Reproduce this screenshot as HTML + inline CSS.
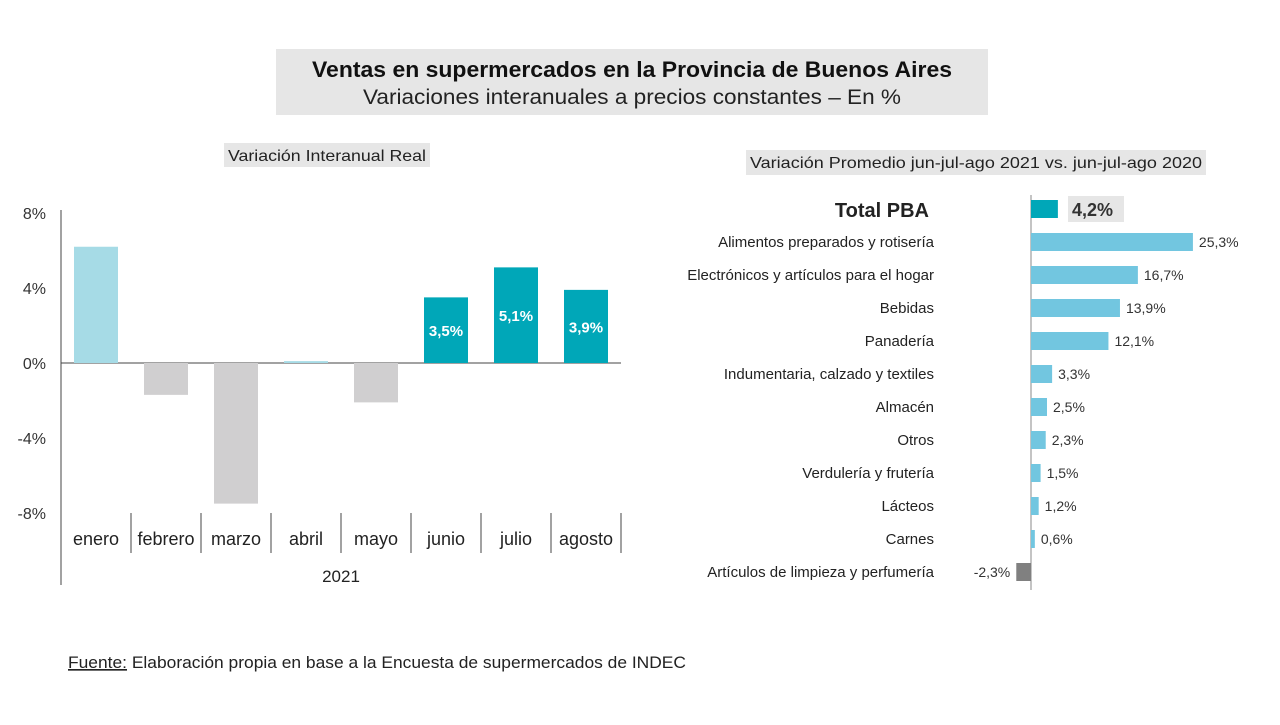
<!DOCTYPE html>
<html><head><meta charset="utf-8">
<style>
body{margin:0;width:1280px;height:720px;background:#fff;font-family:"Liberation Sans",sans-serif;overflow:hidden}
svg text{font-family:"Liberation Sans",sans-serif}
</style></head>
<body>
<svg width="1280" height="720">
<rect x="276" y="49" width="712" height="66" fill="#e6e6e6"/>
<text x="632" y="77" text-anchor="middle" font-size="22.5" font-weight="bold" fill="#111" textLength="640" lengthAdjust="spacingAndGlyphs">Ventas en supermercados en la Provincia de Buenos Aires</text>
<text x="632" y="104" text-anchor="middle" font-size="21" fill="#222" textLength="538" lengthAdjust="spacingAndGlyphs">Variaciones interanuales a precios constantes – En %</text>
<rect x="224" y="143" width="206" height="24" fill="#e6e6e6"/>
<text x="327" y="161" text-anchor="middle" font-size="16" fill="#222" textLength="198" lengthAdjust="spacingAndGlyphs">Variación Interanual Real</text>
<rect x="746" y="150" width="460" height="25" fill="#e6e6e6"/>
<text x="976" y="168" text-anchor="middle" font-size="16" fill="#222" textLength="452" lengthAdjust="spacingAndGlyphs">Variación Promedio jun-jul-ago 2021 vs. jun-jul-ago 2020</text>
<g id="left"></g>
<g id="right"></g>
<text x="68" y="668" font-size="16.5" fill="#222" textLength="618" lengthAdjust="spacingAndGlyphs"><tspan text-decoration="underline">Fuente:</tspan> Elaboración propia en base a la Encuesta de supermercados de INDEC</text>
</svg>
<script>
const months=["enero","febrero","marzo","abril","mayo","junio","julio","agosto"];
const monthVals=[6.2,-1.7,-7.5,0.1,-2.1,3.5,5.1,3.9];
const monthLabels=["","","","","","3,5%","5,1%","3,9%"];
const yTicks=[8,4,0,-4,-8];
const yTickLabels=["8%","4%","0%","-4%","-8%"];
const cats=["Total PBA","Alimentos preparados y rotisería","Electrónicos y artículos para el hogar","Bebidas","Panadería","Indumentaria, calzado y textiles","Almacén","Otros","Verdulería y frutería","Lácteos","Carnes","Artículos de limpieza y perfumería"];
const catVals=[4.2,25.3,16.7,13.9,12.1,3.3,2.5,2.3,1.5,1.2,0.6,-2.3];
const catLabels=["4,2%","25,3%","16,7%","13,9%","12,1%","3,3%","2,5%","2,3%","1,5%","1,2%","0,6%","-2,3%"];
const NS="http://www.w3.org/2000/svg";
function mk(t,a,p,txt){const e=document.createElementNS(NS,t);for(const k in a)e.setAttribute(k,a[k]);if(txt!==undefined)e.textContent=txt;p.appendChild(e);return e;}
const L=document.getElementById('left');
const y=v=>363-v*18.75, cx=i=>96+i*70;
mk('line',{x1:61,y1:210,x2:61,y2:585,stroke:'#444'},L);
mk('line',{x1:61,y1:363,x2:621,y2:363,stroke:'#444'},L);
yTicks.forEach((t,i)=>{
 const tx=mk('text',{x:46,y:y(t)+6,'text-anchor':'end','font-size':16,fill:'#333'},L,yTickLabels[i]);
 
 
});
for(let i=0;i<=8;i++){const l=mk('line',{x1:61+i*70,y1:513,x2:61+i*70,y2:553,stroke:'#444'},L);
 
 }
months.forEach((m,i)=>{
 const v=monthVals[i];const col=i>=5?'#00a7b8':(v>=0?'#a6dbe6':'#d0cfd0');
 const r=mk('rect',{x:cx(i)-22,y:Math.min(y(v),y(0)),width:44,height:Math.max(1,Math.abs(y(v)-y(0))),fill:col},L);
 
 
 const t=mk('text',{x:cx(i),y:545,'text-anchor':'middle','font-size':18,fill:'#222'},L,m);
 
 
 if(monthLabels[i]){const d=mk('text',{x:cx(i),y:(y(v)+y(0))/2+6,'text-anchor':'middle','font-size':15,'font-weight':'bold',fill:'#fff'},L,monthLabels[i]);
  
  }
});
const yr=mk('text',{x:341,y:582,'text-anchor':'middle','font-size':17,fill:'#222'},L,'2021');


const R=document.getElementById('right');
const x0=1031,sc=6.4,ry=i=>209+i*33.0;
mk('line',{x1:x0,y1:195,x2:x0,y2:590,stroke:'#888'},R);
cats.forEach((c,i)=>{
 const v=catVals[i],yy=ry(i);
 const col=i===0?'#00a7b8':(v<0?'#808080':'#72c6e0');
 const r=mk('rect',{x:v>=0?x0:x0+v*sc,y:yy-9,width:Math.abs(v)*sc,height:18,fill:col},R);
 
 
 const lt=mk('text',{x:i===0?929:934,y:yy+(i===0?8:5),'text-anchor':'end','font-size':i===0?20:15,'font-weight':i===0?'bold':'normal',fill:'#222'},R,c);
 
 
 if(i===0){const b=mk('rect',{x:1068,y:196,width:56,height:26,fill:'#e6e6e6'},R);
  
  }
 const vt=mk('text',{x:v>=0?(i===0?1072:x0+v*sc+6):x0+v*sc-6,y:yy+(i===0?7:5),'text-anchor':v>=0?'start':'end','font-size':i===0?18:14,'font-weight':i===0?'bold':'normal',fill:'#333'},R,catLabels[i]);
 
 
});
</script>
</body></html>
